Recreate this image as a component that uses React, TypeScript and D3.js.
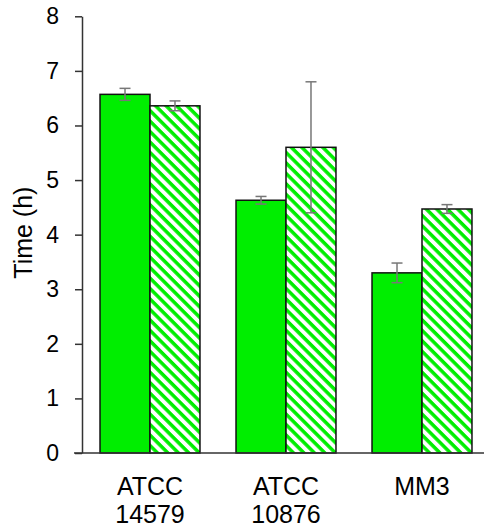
import React, { useEffect, useRef } from "react";
import * as d3 from "d3";

const categories = [["ATCC", "14579"], ["ATCC", "10876"], ["MM3"]];
const series = ["solid", "hatched"];
const solidValues = [6.57, 4.63, 3.3];
const solidErrors = [0.11, 0.07, 0.18];
const hatchedValues = [6.36, 5.6, 4.47];
const hatchedErrors = [0.09, 1.2, 0.08];
const yTicks = [0, 1, 2, 3, 4, 5, 6, 7, 8];

const App = () => {
  const chartRef = useRef<SVGSVGElement>(null);

  useEffect(() => {
    const svg = d3.select(chartRef.current);
    svg.selectAll("*").remove();

    const font = "Liberation Sans, Arial, sans-serif";
    const x0 = 82;
    const y0 = 453;
    const yTop = 16.3;

    const keys = categories.map((c) => c.join(" "));
    const xScale = d3
      .scaleBand()
      .domain(keys)
      .range([x0, 490])
      .paddingInner(0.265)
      .paddingOuter(0.1325);
    const xSub = d3.scaleBand().domain(series).range([0, xScale.bandwidth()]);
    const yScale = d3.scaleLinear().domain([0, 8]).range([y0, yTop]);

    const defs = svg.append("defs");
    const pat = defs
      .append("pattern")
      .attr("id", "hatch")
      .attr("patternUnits", "userSpaceOnUse")
      .attr("width", 7.4)
      .attr("height", 7.4)
      .attr("patternTransform", "rotate(45)");
    pat.append("rect").attr("width", 7.4).attr("height", 7.4).attr("fill", "white");
    pat.append("rect").attr("width", 7.4).attr("height", 3.5).attr("fill", "#00ee00");

    const data = keys.map((k, i) => [
      { key: k, s: "solid", v: solidValues[i], e: solidErrors[i] },
      { key: k, s: "hatched", v: hatchedValues[i], e: hatchedErrors[i] },
    ]);
    const flat = data.flat();

    const g = svg.append("g");

    g.selectAll("rect.bar")
      .data(flat)
      .join("rect")
      .attr("class", "bar")
      .attr("x", (d) => xScale(d.key)! + xSub(d.s)!)
      .attr("y", (d) => yScale(d.v))
      .attr("width", xSub.bandwidth())
      .attr("height", (d) => y0 - yScale(d.v))
      .attr("fill", (d) => (d.s === "solid" ? "#00ee00" : "url(#hatch)"))
      .attr("stroke", "#111")
      .attr("stroke-width", 1.5);

    // error bars
    const eb = g
      .selectAll("g.err")
      .data(flat)
      .join("g")
      .attr("class", "err")
      .attr("stroke", "#777")
      .attr("stroke-width", 1.5);
    const cx = (d: any) => xScale(d.key)! + xSub(d.s)! + xSub.bandwidth() / 2;
    eb.append("line")
      .attr("x1", cx)
      .attr("x2", cx)
      .attr("y1", (d) => yScale(d.v + d.e))
      .attr("y2", (d) => yScale(d.v - d.e));
    [1, -1].forEach((sgn) => {
      eb.append("line")
        .attr("x1", (d) => cx(d) - 5.5)
        .attr("x2", (d) => cx(d) + 5.5)
        .attr("y1", (d) => yScale(d.v + sgn * d.e))
        .attr("y2", (d) => yScale(d.v + sgn * d.e));
    });

    // y axis
    const yAxisG = svg
      .append("g")
      .attr("transform", `translate(${x0},0)`)
      .call(d3.axisLeft(yScale).tickValues(yTicks).tickSize(7).tickPadding(16).tickSizeOuter(0));
    yAxisG.select(".domain").attr("stroke", "#333").attr("stroke-width", 1.5);
    yAxisG.selectAll(".tick line").attr("stroke", "#333").attr("stroke-width", 1.5);
    yAxisG
      .selectAll(".tick text")
      .attr("font-family", font)
      .attr("font-size", 23)
      .attr("fill", "#000");

    // x axis baseline
    svg
      .append("line")
      .attr("x1", 74)
      .attr("x2", 484)
      .attr("y1", y0)
      .attr("y2", y0)
      .attr("stroke", "#333")
      .attr("stroke-width", 1.5);

    // x labels
    const xl = svg
      .selectAll("text.xl")
      .data(categories)
      .join("text")
      .attr("class", "xl")
      .attr("font-family", font)
      .attr("font-size", 25)
      .attr("text-anchor", "middle");
    xl.selectAll("tspan")
      .data((d, i) => d.map((t) => ({ t, k: keys[i] })))
      .join("tspan")
      .attr("x", (d) => xScale(d.k)! + xScale.bandwidth() / 2)
      .attr("y", (d, j) => 495 + j * 28)
      .text((d) => d.t);

    svg
      .append("text")
      .attr("transform", `translate(32,${(y0 + yTop) / 2 - 2}) rotate(-90)`)
      .attr("text-anchor", "middle")
      .attr("font-family", font)
      .attr("font-size", 25)
      .text("Time (h)");
  }, []);

  return (
    <svg
      ref={chartRef}
      width="484"
      height="529"
      style={{ position: "absolute", left: 0, top: 0, background: "white" }}
    ></svg>
  );
};

export default App;
